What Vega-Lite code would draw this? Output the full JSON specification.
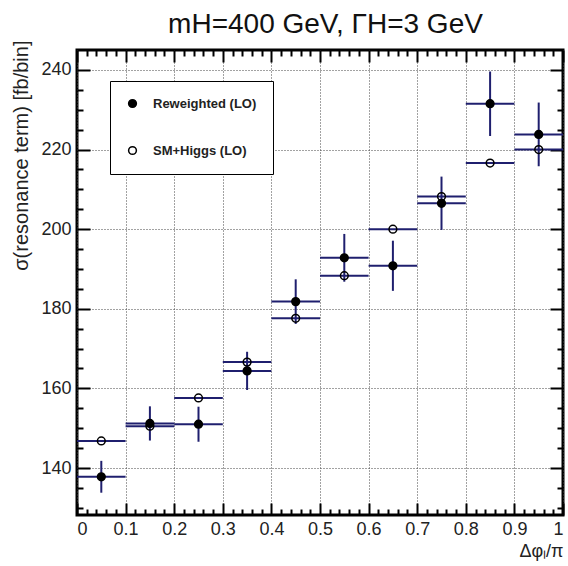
{
  "$schema": "https://vega.github.io/schema/vega-lite/v6.json",
  "width": 486,
  "height": 465,
  "autosize": {"type": "none"},
  "padding": {"left": 77, "top": 50, "right": 5, "bottom": 51},
  "background": "white",
  "config": {
    "view": {"stroke": "black", "strokeWidth": 3},
    "axis": {
      "labelFont": "Liberation Sans",
      "titleFont": "Liberation Sans",
      "labelColor": "#222",
      "titleColor": "#222",
      "domain": false,
      "tickColor": "black",
      "gridColor": "#444",
      "gridDash": [1, 2],
      "gridWidth": 1
    }
  },
  "data": {
    "values": [
      {"series": "Reweighted (LO)", "bin_lo": 0.0, "bin_hi": 0.1, "x": 0.05, "y": 137.8, "y_lo": 133.8, "y_hi": 141.8},
      {"series": "Reweighted (LO)", "bin_lo": 0.1, "bin_hi": 0.2, "x": 0.15, "y": 151.2, "y_lo": 146.9, "y_hi": 155.5},
      {"series": "Reweighted (LO)", "bin_lo": 0.2, "bin_hi": 0.3, "x": 0.25, "y": 151.0, "y_lo": 146.6, "y_hi": 155.4},
      {"series": "Reweighted (LO)", "bin_lo": 0.3, "bin_hi": 0.4, "x": 0.35, "y": 164.4, "y_lo": 159.6, "y_hi": 169.2},
      {"series": "Reweighted (LO)", "bin_lo": 0.4, "bin_hi": 0.5, "x": 0.45, "y": 181.8, "y_lo": 176.2, "y_hi": 187.4},
      {"series": "Reweighted (LO)", "bin_lo": 0.5, "bin_hi": 0.6, "x": 0.55, "y": 192.8, "y_lo": 186.8, "y_hi": 198.8},
      {"series": "Reweighted (LO)", "bin_lo": 0.6, "bin_hi": 0.7, "x": 0.65, "y": 190.8, "y_lo": 184.5, "y_hi": 197.1},
      {"series": "Reweighted (LO)", "bin_lo": 0.7, "bin_hi": 0.8, "x": 0.75, "y": 206.5, "y_lo": 199.8, "y_hi": 213.2},
      {"series": "Reweighted (LO)", "bin_lo": 0.8, "bin_hi": 0.9, "x": 0.85, "y": 231.5, "y_lo": 223.4, "y_hi": 239.6},
      {"series": "Reweighted (LO)", "bin_lo": 0.9, "bin_hi": 1.0, "x": 0.95, "y": 223.8, "y_lo": 215.8, "y_hi": 231.8},
      {"series": "SM+Higgs (LO)", "bin_lo": 0.0, "bin_hi": 0.1, "x": 0.05, "y": 146.8, "y_lo": 146.8, "y_hi": 146.8},
      {"series": "SM+Higgs (LO)", "bin_lo": 0.1, "bin_hi": 0.2, "x": 0.15, "y": 150.5, "y_lo": 150.5, "y_hi": 150.5},
      {"series": "SM+Higgs (LO)", "bin_lo": 0.2, "bin_hi": 0.3, "x": 0.25, "y": 157.6, "y_lo": 157.6, "y_hi": 157.6},
      {"series": "SM+Higgs (LO)", "bin_lo": 0.3, "bin_hi": 0.4, "x": 0.35, "y": 166.6, "y_lo": 166.6, "y_hi": 166.6},
      {"series": "SM+Higgs (LO)", "bin_lo": 0.4, "bin_hi": 0.5, "x": 0.45, "y": 177.6, "y_lo": 177.6, "y_hi": 177.6},
      {"series": "SM+Higgs (LO)", "bin_lo": 0.5, "bin_hi": 0.6, "x": 0.55, "y": 188.3, "y_lo": 188.3, "y_hi": 188.3},
      {"series": "SM+Higgs (LO)", "bin_lo": 0.6, "bin_hi": 0.7, "x": 0.65, "y": 200.0, "y_lo": 200.0, "y_hi": 200.0},
      {"series": "SM+Higgs (LO)", "bin_lo": 0.7, "bin_hi": 0.8, "x": 0.75, "y": 208.2, "y_lo": 208.2, "y_hi": 208.2},
      {"series": "SM+Higgs (LO)", "bin_lo": 0.8, "bin_hi": 0.9, "x": 0.85, "y": 216.6, "y_lo": 216.6, "y_hi": 216.6},
      {"series": "SM+Higgs (LO)", "bin_lo": 0.9, "bin_hi": 1.0, "x": 0.95, "y": 220.0, "y_lo": 220.0, "y_hi": 220.0}
    ]
  },
  "layer": [
    {
      "transform": [{"filter": {"field": "series", "equal": "Reweighted (LO)"}}],
      "mark": {"type": "rule", "color": "#1f1f6e", "strokeWidth": 2},
      "encoding": {
        "x": {
          "field": "x", "type": "quantitative",
          "scale": {"domain": [0, 1], "nice": false},
          "axis": {
            "orient": "bottom",
            "values": [0, 0.1, 0.2, 0.3, 0.4, 0.5, 0.6, 0.7, 0.8, 0.9, 1],
            "format": "~g",
            "labelFontSize": 18,
            "labelPadding": 17,
            "tickSize": -12,
            "tickWidth": 2,
            "grid": true,
            "title": "Δφₗ/π",
            "titleFontSize": 18,
            "titleFontWeight": "normal",
            "titleAlign": "right",
            "titleAnchor": "end",
            "titleX": 486,
            "titleY": 36,
            "titleBaseline": "middle"
          }
        },
        "y": {
          "field": "y_lo", "type": "quantitative",
          "scale": {"domain": [128.2, 245], "nice": false, "zero": false},
          "axis": {
            "orient": "left",
            "values": [140, 160, 180, 200, 220, 240],
            "labelFontSize": 18,
            "labelPadding": 19,
            "tickSize": -13,
            "tickWidth": 2,
            "grid": true,
            "title": "σ(resonance term) [fb/bin]",
            "titleFontSize": 20,
            "titleFontWeight": "normal",
            "titleAngle": -90,
            "titleAlign": "right",
            "titleBaseline": "middle",
            "titleX": -56,
            "titleY": -10
          }
        },
        "y2": {"field": "y_hi"}
      }
    },
    {
      "transform": [{"filter": {"field": "series", "equal": "SM+Higgs (LO)"}}],
      "mark": {"type": "rule", "color": "#1f1f6e", "strokeWidth": 2},
      "encoding": {
        "x": {
          "field": "bin_lo", "type": "quantitative",
          "scale": {"domain": [0, 1], "nice": false},
          "axis": {
            "orient": "bottom",
            "values": [0.02, 0.04, 0.06, 0.08, 0.12, 0.14, 0.16, 0.18, 0.22, 0.24, 0.26, 0.28, 0.32, 0.34, 0.36, 0.38, 0.42, 0.44, 0.46, 0.48, 0.52, 0.54, 0.56, 0.58, 0.62, 0.64, 0.66, 0.68, 0.72, 0.74, 0.76, 0.78, 0.82, 0.84, 0.86, 0.88, 0.92, 0.94, 0.96, 0.98],
            "labels": false,
            "tickSize": -6,
            "tickWidth": 2,
            "grid": false,
            "title": null
          }
        },
        "x2": {"field": "bin_hi"},
        "y": {
          "field": "y", "type": "quantitative",
          "scale": {"domain": [128.2, 245], "nice": false, "zero": false},
          "axis": {
            "orient": "left",
            "values": [130, 135, 145, 150, 155, 165, 170, 175, 185, 190, 195, 205, 210, 215, 225, 230, 235],
            "labels": false,
            "tickSize": -6,
            "tickWidth": 2,
            "grid": false,
            "title": null
          }
        }
      }
    },
    {
      "transform": [{"filter": {"field": "series", "equal": "Reweighted (LO)"}}],
      "mark": {"type": "rule", "color": "#1f1f6e", "strokeWidth": 2},
      "encoding": {
        "x": {
          "field": "bin_lo", "type": "quantitative",
          "scale": {"domain": [0, 1], "nice": false},
          "axis": {
            "orient": "top",
            "values": [0, 0.1, 0.2, 0.3, 0.4, 0.5, 0.6, 0.7, 0.8, 0.9, 1],
            "labels": false,
            "tickSize": -12,
            "tickWidth": 2,
            "grid": false,
            "title": "mH=400 GeV, ΓH=3 GeV",
            "titleFontSize": 28,
            "titleFontWeight": "normal",
            "titleColor": "#111",
            "titleAlign": "center",
            "titleBaseline": "alphabetic",
            "titleX": 248,
            "titleY": -18
          }
        },
        "x2": {"field": "bin_hi"},
        "y": {
          "field": "y", "type": "quantitative",
          "scale": {"domain": [128.2, 245], "nice": false, "zero": false},
          "axis": {
            "orient": "right",
            "values": [140, 160, 180, 200, 220, 240],
            "labels": false,
            "tickSize": -13,
            "tickWidth": 2,
            "grid": false,
            "title": null
          }
        }
      }
    },
    {
      "mark": {"type": "point", "shape": "circle", "filled": true, "stroke": "black", "strokeWidth": 1.5, "size": 60, "opacity": 1},
      "encoding": {
        "x": {
          "field": "x", "type": "quantitative",
          "scale": {"domain": [0, 1], "nice": false},
          "axis": {
            "orient": "top",
            "values": [0.02, 0.04, 0.06, 0.08, 0.12, 0.14, 0.16, 0.18, 0.22, 0.24, 0.26, 0.28, 0.32, 0.34, 0.36, 0.38, 0.42, 0.44, 0.46, 0.48, 0.52, 0.54, 0.56, 0.58, 0.62, 0.64, 0.66, 0.68, 0.72, 0.74, 0.76, 0.78, 0.82, 0.84, 0.86, 0.88, 0.92, 0.94, 0.96, 0.98],
            "labels": false,
            "tickSize": -6,
            "tickWidth": 2,
            "grid": false,
            "title": null
          }
        },
        "y": {
          "field": "y", "type": "quantitative",
          "scale": {"domain": [128.2, 245], "nice": false, "zero": false},
          "axis": {
            "orient": "right",
            "values": [130, 135, 145, 150, 155, 165, 170, 175, 185, 190, 195, 205, 210, 215, 225, 230, 235],
            "labels": false,
            "tickSize": -6,
            "tickWidth": 2,
            "grid": false,
            "title": null
          }
        },
        "fill": {
          "field": "series", "type": "nominal",
          "scale": {"domain": ["Reweighted (LO)", "SM+Higgs (LO)"], "range": ["black", "transparent"]},
          "legend": {
            "orient": "none",
            "legendX": 33,
            "legendY": 31,
            "title": null,
            "fillColor": "white",
            "strokeColor": "black",
            "padding": 16,
            "rowPadding": 32,
            "symbolType": "circle",
            "symbolSize": 60,
            "symbolStrokeColor": "black",
            "symbolStrokeWidth": 1.5,
            "labelFont": "Liberation Sans",
            "labelFontSize": 13,
            "labelFontWeight": "bold",
            "labelColor": "#222",
            "labelOffset": 14,
            "encode": {"legend": {"update": {"strokeWidth": {"value": 2}}}}
          }
        }
      }
    }
  ],
  "resolve": {"axis": {"x": "independent", "y": "independent"}}
}
